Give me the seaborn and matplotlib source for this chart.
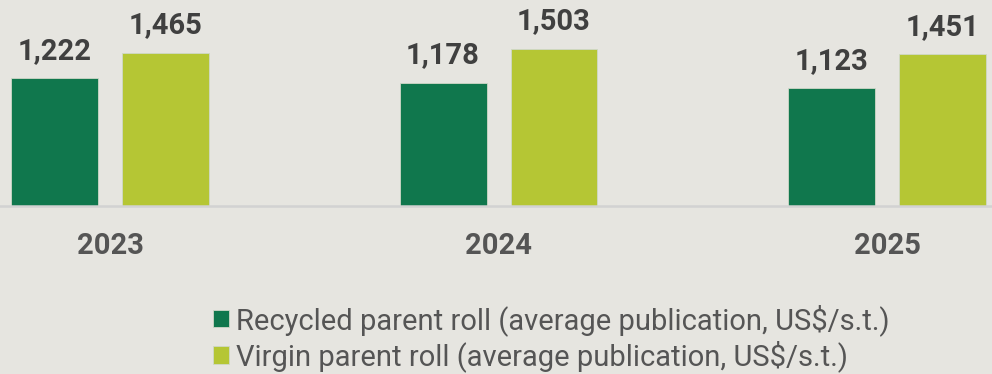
import matplotlib
matplotlib.use("Agg")
import matplotlib.pyplot as plt
import seaborn as sns
import pandas as pd

years = ["2023", "2024", "2025"]
recycled = [1222, 1178, 1123]
virgin = [1465, 1503, 1451]
series_names = ["Recycled parent roll (average publication, US$/s.t.)",
                "Virgin parent roll (average publication, US$/s.t.)"]

df = pd.DataFrame({
    "year": years * 2,
    "value": recycled + virgin,
    "series": [series_names[0]] * 3 + [series_names[1]] * 3,
})

BG = "#e6e5e0"
DARK = "#10774d"
LIGHT = "#b5c634"

sns.set_theme(style="white")
plt.rcParams["font.family"] = ["Roboto", "DejaVu Sans"]

fig = plt.figure(figsize=(9.92, 3.74), dpi=100, facecolor=BG)
ax = fig.add_axes([0, 1 - 206 / 374, 1, 206 / 374])
ax.set_facecolor(BG)

sns.barplot(data=df, x="year", y="value", hue="series", order=years,
            hue_order=series_names, palette=[DARK, LIGHT],
            width=0.571, gap=0.216, ax=ax, legend=True, saturation=1,
            linewidth=0.6, edgecolor="#cfd8c8")

for c in ax.containers:
    ax.bar_label(c, labels=[f"{v:,.0f}" for v in c.datavalues], padding=9.5,
                 fontsize=21, fontweight="bold", color="#404040")

ax.set_xlim(-0.283, 2.270)
ax.set_ylim(0, 1967)
ax.set_xlabel("")
ax.set_ylabel("")
ax.set_yticks([])
ax.tick_params(axis="x", length=0, pad=19, labelsize=21, labelcolor="#555555")
for t in ax.get_xticklabels():
    t.set_fontweight("bold")
for s in ["top", "left", "right"]:
    ax.spines[s].set_visible(False)
ax.spines["bottom"].set_color("#d2d2d2")
ax.spines["bottom"].set_linewidth(1.8)

handles, labels = ax.get_legend_handles_labels()
ax.get_legend().remove()
fig.legend(handles, labels, loc="upper left", bbox_to_anchor=(213 / 992, 1 - 304 / 374),
           frameon=False, fontsize=21, labelcolor="#555555", handlelength=0.55,
           handleheight=0.55, handletextpad=0.24, labelspacing=0.15, borderaxespad=0,
           borderpad=0)

fig.savefig("out.png", dpi=100, facecolor=BG)
